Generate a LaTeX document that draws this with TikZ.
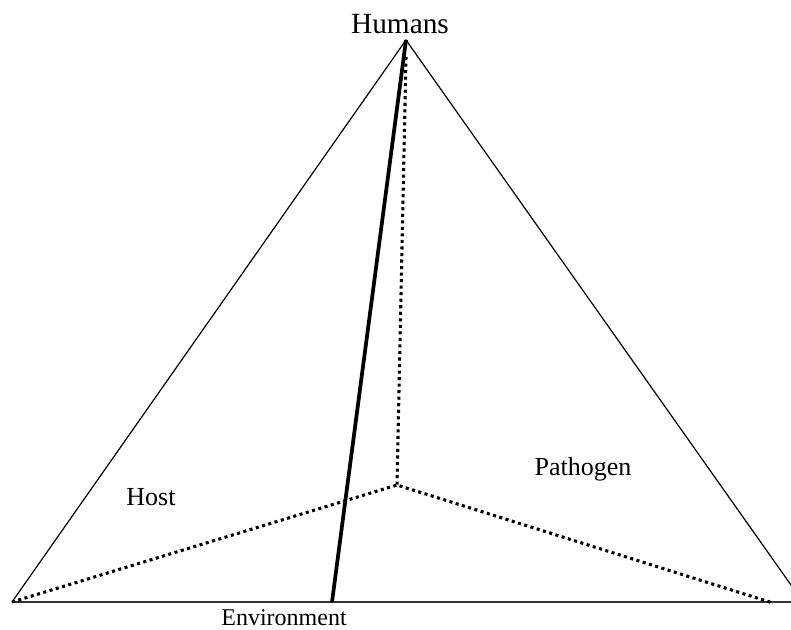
\documentclass[tikz,border=0pt]{standalone}
\usepackage{fontspec}
\setmainfont{Liberation Serif}
\usetikzlibrary{calc}

\begin{document}
\begin{tikzpicture}[x=0.75pt,y=-0.75pt,
  side/.style={black,line width=0.9pt},
  spine/.style={black,line width=2.8pt},
  hidden/.style={black,line width=2.3pt,dash pattern=on 2.3pt off 2.6pt},
  lbl/.style={anchor=base,inner sep=0pt}]
\clip (0,0) rectangle (791,629);
\coordinate (apex) at (406,40);
\coordinate (left) at (12,602);
\coordinate (right) at (803,602);
\coordinate (top) at (406,57);
\coordinate (mid) at (397,485);
\coordinate (foot) at (332,602);
\coordinate (rend) at (773,603);
% outer triangle
\draw[side] (left) -- (apex) -- (right);
\draw[black!80,line width=0.9pt] (left) -- (791,602);
% hidden edges
\draw[hidden] (top) -- (mid);
\draw[hidden] (left) -- (mid) -- (rend);
% front edge
\draw[spine] (apex) -- (foot);
\node[lbl,font=\fontsize{22}{26}\selectfont] (humans) at (400,33) {Humans};
\node[lbl,font=\fontsize{19.5}{23}\selectfont] (host) at (151,505) {Host};
\node[lbl,font=\fontsize{19.5}{23}\selectfont] (pathogen) at (583,475) {Pathogen};
\node[lbl,font=\fontsize{18}{21}\selectfont] (env) at (284,625) {Environment};
\end{tikzpicture}
\end{document}
